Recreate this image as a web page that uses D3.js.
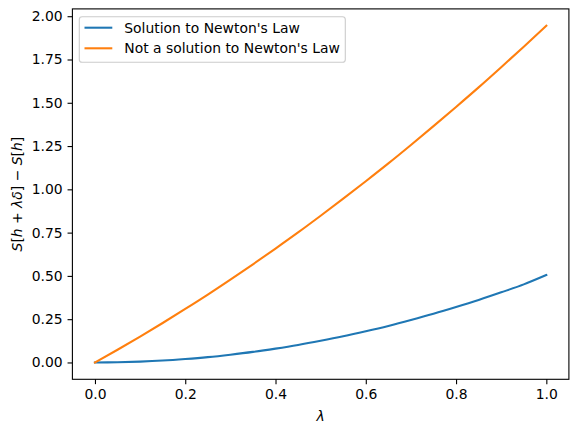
<!DOCTYPE html>
<html><head><meta charset="utf-8">
<script src="https://cdn.jsdelivr.net/npm/d3@7"></script>
<style>body{margin:0;background:#fff}svg{display:block}text{font-family:"DejaVu Sans",sans-serif}</style>
</head><body>
<script>
const lambdas = [0,0.05,0.1,0.15,0.2,0.25,0.3,0.35,0.4,0.45,0.5,0.55,0.6,0.65,0.7,0.75,0.8,0.85,0.9,0.95,1.0];
const solution = [0,0.0013,0.005,0.011,0.02,0.031,0.045,0.061,0.08,0.101,0.125,0.151,0.18,0.211,0.245,0.281,0.32,0.361,0.405,0.451,0.505];
const notSolution = [0,0.0735,0.1495,0.228,0.309,0.392,0.4785,0.567,0.658,0.751,0.8475,0.946,1.047,1.150,1.2565,1.365,1.476,1.589,1.7055,1.824,1.945];
const seriesNames = ["Solution to Newton's Law","Not a solution to Newton's Law"];
const xTicks = [0,0.2,0.4,0.6,0.8,1.0];
const yTicks = [0,0.25,0.5,0.75,1.0,1.25,1.5,1.75,2.0];
const colors = ["#1f77b4","#ff7f0e"];

const W=578,H=433;
const L=72.4,R=568.9,T=8.9,B=379.3;
const fs=13.9;
const svg=d3.select("body").append("svg").attr("width",W).attr("height",H);
const x=d3.scaleLinear().domain([-0.05,1.05]).range([L,R]);
const yMin=0, yMax=1.945, m=(yMax-yMin)*0.05;
const y=d3.scaleLinear().domain([yMin-m,yMax+m]).range([B,T]);

const line=d3.line().x(d=>x(d[0])).y(d=>y(d[1]));
[solution,notSolution].forEach((s,i)=>{
  svg.append("path").datum(lambdas.map((l,j)=>[l,s[j]]))
    .attr("d",line.curve(d3.curveMonotoneX)).attr("fill","none")
    .attr("stroke",colors[i]).attr("stroke-width",2.08).attr("stroke-linecap","square");
});

const xa=svg.append("g").attr("transform",`translate(0,${B})`)
  .call(d3.axisBottom(x).tickValues(xTicks).tickFormat(d3.format(".1f")).tickSize(4.86).tickPadding(4.86));
const ya=svg.append("g").attr("transform",`translate(${L},0)`)
  .call(d3.axisLeft(y).tickValues(yTicks).tickFormat(d3.format(".2f")).tickSize(4.86).tickPadding(4.86));
[xa,ya].forEach(g=>{
  g.select(".domain").remove();
  g.selectAll("line").attr("stroke","#000").attr("stroke-width",1.1);
  g.selectAll("text").attr("font-size",fs).attr("fill","#000").attr("font-family","DejaVu Sans");
});
svg.append("rect").attr("x",L).attr("y",T).attr("width",R-L).attr("height",B-T)
  .attr("fill","none").attr("stroke","#000").attr("stroke-width",1.1);

// x label
svg.append("text").attr("x",(L+R)/2).attr("y",421).attr("text-anchor","middle")
  .attr("font-size",fs).attr("font-style","italic").text("λ");
// y label
const yl=svg.append("text").attr("transform",`translate(22,${(T+B)/2}) rotate(-90)`)
  .attr("text-anchor","middle").attr("font-size",fs);
[["S",1],["[",0],["h",1],[" + ",0],["λδ",1],["]",0],[" − ",0],["S",1],["[",0],["h",1],["]",0]]
  .forEach(([t,it])=>yl.append("tspan").attr("font-style",it?"italic":"normal").text(t));

// legend
const lg=svg.append("g");
lg.append("rect").attr("x",79.3).attr("y",16.7).attr("width",266).attr("height",45.6)
  .attr("rx",2.8).attr("fill","#fff").attr("fill-opacity",0.8).attr("stroke","#cccccc").attr("stroke-width",1.1);
seriesNames.forEach((n,i)=>{
  const yy=27.7+i*20.6;
  lg.append("line").attr("x1",84.5).attr("x2",112.3).attr("y1",yy).attr("y2",yy)
    .attr("stroke",colors[i]).attr("stroke-width",2.08);
  lg.append("text").attr("x",124.3).attr("y",yy).attr("dy","0.36em").attr("font-size",fs).text(n);
});
</script>
</body></html>
